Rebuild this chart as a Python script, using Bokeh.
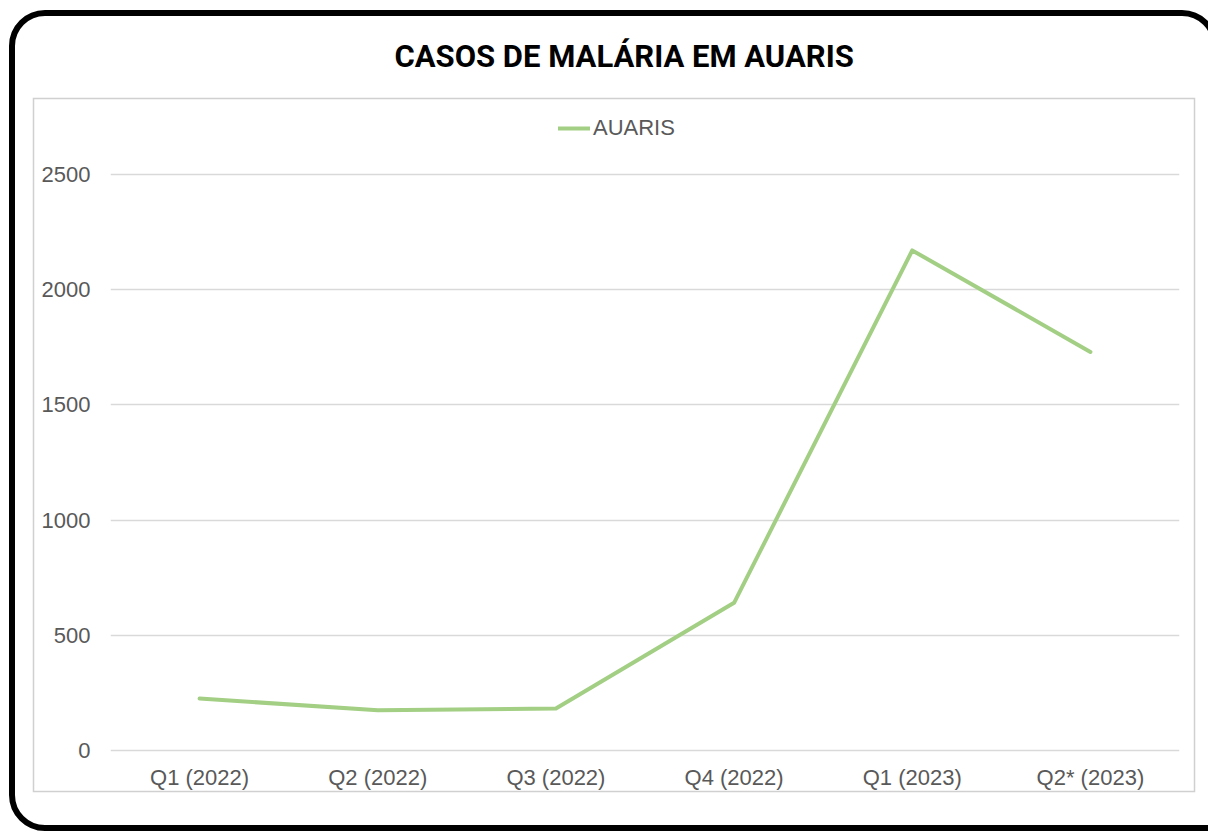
from urllib.parse import quote
from bokeh.plotting import figure
from bokeh.models import (Range1d, FactorRange, FixedTicker, Legend, LegendItem,
                          ColumnDataSource, Title)
from bokeh.embed import file_html
from bokeh.resources import INLINE

# ---- data ----
categories = ["Q1 (2022)", "Q2 (2022)", "Q3 (2022)", "Q4 (2022)", "Q1 (2023)", "Q2* (2023)"]
auaris = [227, 176, 184, 642, 2170, 1730]
y_ticks = [0, 500, 1000, 1500, 2000, 2500]
title_text = "CASOS DE MALÁRIA EM AUARIS"
series_name = "AUARIS"

W, H = 1208, 832
GREEN = "#a2cf84"
GREY_TXT = "#595959"

# decorative frame (rounded black border + light grey chart-area box)
bg_svg = (
    f'<svg xmlns="http://www.w3.org/2000/svg" width="{W}" height="{H}" '
    f'viewBox="0 0 {W} {H}">'
    '<path d="M 45 13 H 1182 A 33 33 0 0 1 1215 46 L 1245 795 '
    'A 33 33 0 0 1 1212 828 H 45 A 33 33 0 0 1 12 795 V 46 A 33 33 0 0 1 45 13 Z" '
    'fill="none" stroke="#000000" stroke-width="6"/>'
    '<rect x="33.5" y="98.5" width="1161" height="693" '
    'fill="none" stroke="#d0d0d0" stroke-width="1.5"/>'
    '</svg>'
)
bg_style = {
    "background-image": f'url("data:image/svg+xml;charset=utf-8,{quote(bg_svg)}")',
    "background-repeat": "no-repeat",
    "background-position": "0 0",
    "background-size": f"{W}px {H}px",
    "background-color": "white",
}

p = figure(width=W, height=H, x_range=FactorRange(*categories),
           y_range=Range1d(-20, 2820), output_backend="svg", toolbar_location=None,
           min_border_left=110, min_border_right=29, min_border_top=100,
           min_border_bottom=77, styles=bg_style)
p.title = None
p.outline_line_color = None
p.background_fill_alpha = 0
p.border_fill_alpha = 0

src = ColumnDataSource(dict(x=categories, y=auaris))
r = p.line("x", "y", source=src, line_color=GREEN, line_width=4,
           line_join="round", line_cap="round")

# axes
p.yaxis.ticker = FixedTicker(ticks=y_ticks)
for ax in (p.xaxis[0], p.yaxis[0]):
    ax.axis_line_color = None
    ax.major_tick_line_color = None
    ax.minor_tick_line_color = None
    ax.major_tick_out = 0
    ax.major_tick_in = 0
    ax.minor_tick_out = 0
    ax.major_label_text_font = "Liberation Sans, Arial, sans-serif"
    ax.major_label_text_font_size = "22px"
    ax.major_label_text_color = GREY_TXT
p.yaxis.major_label_standoff = 20
p.xaxis.major_label_standoff = 9
p.xgrid.grid_line_color = None
p.ygrid.grid_line_color = "#d9d9d9"
p.ygrid.grid_line_width = 1.5

# legend
legend = Legend(items=[LegendItem(label=series_name, renderers=[r])],
                location=(448, 614), orientation="horizontal",
                padding=0, margin=0, spacing=0, glyph_width=32, glyph_height=24,
                label_height=24, label_standoff=3,
                label_text_font="Liberation Sans, Arial, sans-serif",
                label_text_font_size="22px",
                label_text_color=GREY_TXT, border_line_color=None,
                background_fill_alpha=0)
p.add_layout(legend, "center")

title = Title(text=title_text, align="left", offset=284, standoff=52,
              text_font="Roboto, sans-serif",
              text_font_style="bold", text_font_size="31px", text_color="black")
p.add_layout(title, "above")

open("out.html", "w").write(file_html(p, INLINE))
